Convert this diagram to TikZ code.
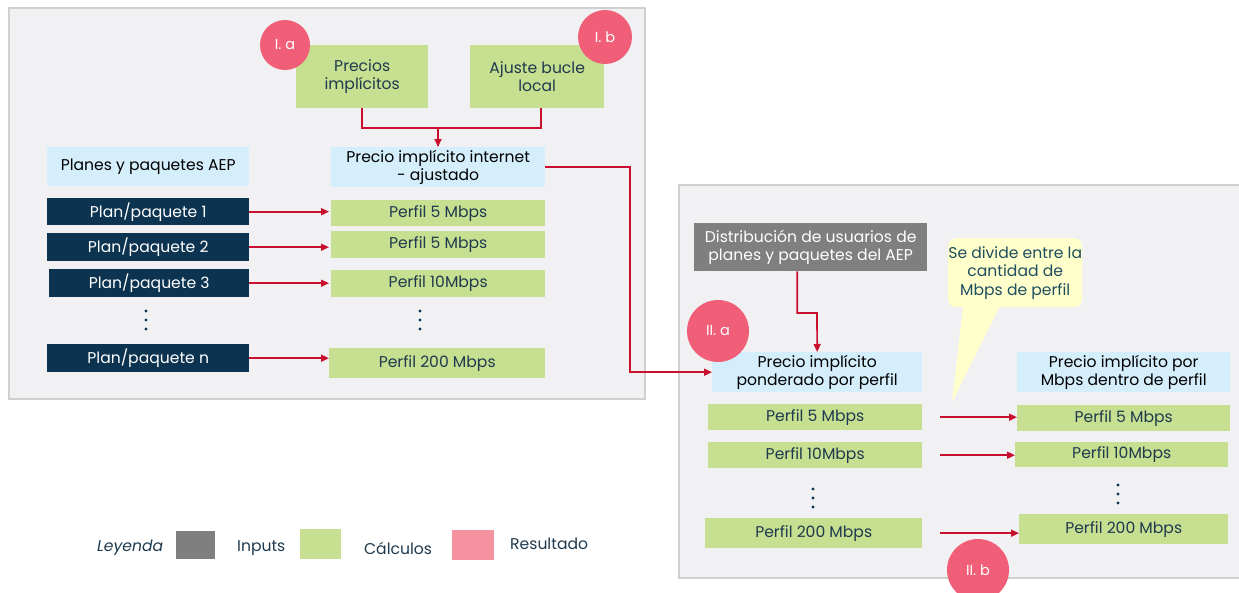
\documentclass[tikz,border=0pt]{standalone}
\usepackage{fontspec}
\setmainfont{Poppins}
\usetikzlibrary{arrows.meta,calc}
\definecolor{framefill}{HTML}{F1F1F4}
\definecolor{frameline}{HTML}{D0D0D0}
\definecolor{gfill}{HTML}{C6DF90}
\definecolor{bfill}{HTML}{D5EEFB}
\definecolor{navy}{HTML}{0C3350}
\definecolor{greybox}{HTML}{7F7F7F}
\definecolor{pinkc}{HTML}{F05E78}
\definecolor{redline}{HTML}{C8102E}
\definecolor{yfill}{HTML}{FFFFCC}
\definecolor{txt}{HTML}{1F3A4E}
\definecolor{notetxt}{HTML}{1F4E5F}
\definecolor{legpink}{HTML}{F4929F}
\tikzset{
  base/.style={inner sep=0pt, align=center, anchor=north west, font=\fontsize{15.6}{18.5}\selectfont},
  gbox/.style={base, fill=gfill, text=txt},
  bbox/.style={base, fill=bfill, text=black},
  nbox/.style={base, fill=navy, text=white},
  greyn/.style={base, fill=greybox, text=white},
  badge/.style={circle, fill=pinkc, text=white, inner sep=0pt, font=\fontsize{14.5}{16}\selectfont},
  conn/.style={draw=redline, line width=1.7pt},
  arr/.style={conn, -{Triangle[length=8pt,width=7pt]}},
  frame/.style={fill=framefill, draw=frameline, line width=2pt},
  dotc/.style={fill=navy, circle, inner sep=0pt, minimum size=3.2pt},
  leg/.style={font=\fontsize{15.6}{18}\selectfont, text=txt, anchor=west, inner sep=0pt}
}
\newcommand{\vdotsat}[3]{%
  \node[dotc] (#1a) at (#2,#3) {};
  \node[dotc] (#1b) at (#2,#3+9) {};
  \node[dotc] (#1c) at (#2,#3+18) {};}
\begin{document}
\begin{tikzpicture}[x=1pt,y=-1pt]
\useasboundingbox (0,0) rectangle (1239,592);
\clip (0,0) rectangle (1239,592);
\fill[white] (0,0) rectangle (1239,592);
% frames
\draw[frame] (9,8) rectangle (645,399);
\draw[frame] (679,185) rectangle (1245,578);

% left panel
\node[gbox, minimum width=132pt, minimum height=63pt] (pi) at (296,45) {Precios\\implícitos};
\node[gbox, minimum width=134pt, minimum height=63pt] (ab) at (470,45) {Ajuste bucle\\local};
\node[bbox, minimum width=202pt, minimum height=39pt] (pya) at (47,147) {Planes y paquetes AEP};
\node[bbox, minimum width=214pt, minimum height=40pt] (pia) at (331,147) {Precio implícito internet\\- ajustado};

\node[nbox, minimum width=202pt, minimum height=27pt] (p1) at (47,198) {Plan/paquete 1};
\node[nbox, minimum width=202pt, minimum height=28pt] (p2) at (47,233) {Plan/paquete 2};
\node[nbox, minimum width=200pt, minimum height=28pt] (p3) at (49,269) {Plan/paquete 3};
\node[nbox, minimum width=202pt, minimum height=28pt] (pn) at (47,344) {Plan/paquete n};

\node[gbox, minimum width=214pt, minimum height=26pt] (q1) at (331,200) {Perfil 5 Mbps};
\node[gbox, minimum width=214pt, minimum height=27pt] (q2) at (331,231) {Perfil 5 Mbps};
\node[gbox, minimum width=214pt, minimum height=27pt] (q3) at (331,270) {Perfil 10Mbps};
\node[gbox, minimum width=216pt, minimum height=30pt] (qn) at (329,348) {Perfil 200 Mbps};

\vdotsat{dl}{146}{311}
\vdotsat{dr}{420}{311}

\coordinate (j) at (438,128);
\draw[conn] (pi.south) |- (j) -| ([xshift=4pt]ab.south);
\draw[arr] (j) -- (j |- pia.north);

\draw[arr] (p1.east) -- ([xshift=-2pt]p1.east -| q1.west);
\draw[arr] (p2.east) -- ([xshift=-2pt]p2.east -| q2.west);
\draw[arr] (p3.east) -- ([xshift=-2pt]p3.east -| q3.west);
\draw[arr] (pn.east) -- (pn.east -| qn.west);

\node[badge, minimum size=50pt] (ia) at (285,45) {I. a};
\node[badge, minimum size=54pt] (ib) at (605,37) {I. b};

% right panel
\node[greyn, minimum width=233pt, minimum height=48pt] (dist) at (694,223) {Distribución de usuarios de\\planes y paquetes del AEP};
\node[bbox, minimum width=210pt, minimum height=40pt] (ppp) at (712,352) {Precio implícito\\ponderado por perfil};
\node[bbox, minimum width=213pt, minimum height=40pt] (pmb) at (1017,352) {Precio implícito por\\Mbps dentro de perfil};

\node[gbox, minimum width=214pt, minimum height=26pt] (r1) at (708,404) {Perfil 5 Mbps};
\node[gbox, minimum width=214pt, minimum height=26pt] (r2) at (708,442) {Perfil 10Mbps};
\node[gbox, minimum width=217pt, minimum height=30pt] (rn) at (705,518) {Perfil 200 Mbps};

\node[gbox, minimum width=213pt, minimum height=26pt] (s1) at (1017,405) {Perfil 5 Mbps};
\node[gbox, minimum width=213pt, minimum height=25pt] (s2) at (1015,442) {Perfil 10Mbps};
\node[gbox, minimum width=209pt, minimum height=30pt] (sn) at (1019,514) {Perfil 200 Mbps};

\vdotsat{el}{813}{489}
\vdotsat{er}{1118}{485}

\draw[arr] ([xshift=18pt]r1.east) -- (r1.east -| s1.west);
\draw[arr] ([xshift=18pt]r2.east) -- (r2.east -| s2.west);
\draw[arr] ([xshift=18pt]rn.east) -- (rn.east -| sn.west);

% callout
\node[base, fill=yfill, rounded corners=8pt, text=notetxt, minimum width=134pt, minimum height=69pt] (note) at (948,238) {Se divide entre la\\cantidad de\\Mbps de perfil};
\coordinate (tip) at (952,402);
\fill[yfill] ([xshift=-52pt,yshift=2pt]note.south) -- (tip) -- ([xshift=-15pt,yshift=2pt]note.south) -- cycle;

% connectors
\coordinate (k) at (630,167);
\draw[arr] (pia.east |- k) -- (k) |- (ppp.west);
\coordinate (d1) at (817,313);
\draw[arr] ([xshift=-13.5pt]dist.south) |- (d1) -- (ppp.north);

\node[badge, minimum size=62pt] (iia) at (718,331) {II. a};
\node[badge, minimum size=62pt] (iib) at (978,570) {II. b};

% legend
\node[leg, font=\fontsize{15.6}{18}\selectfont\itshape] (lt) at (97,548) {Leyenda};
\node[fill=greybox, minimum width=39pt, minimum height=28pt, inner sep=0pt, anchor=west] (lg) at (176,545) {};
\node[leg] (li) at (237,548) {Inputs};
\node[fill=gfill, minimum width=41pt, minimum height=30pt, inner sep=0pt, anchor=west] (lgr) at (300,544) {};
\node[leg] (lc) at (364,548) {Cálculos};
\node[fill=legpink, minimum width=42pt, minimum height=30pt, inner sep=0pt, anchor=west] (lp) at (452,545) {};
\node[leg] (lr) at (510,544) {Resultado};
\end{tikzpicture}
\end{document}
